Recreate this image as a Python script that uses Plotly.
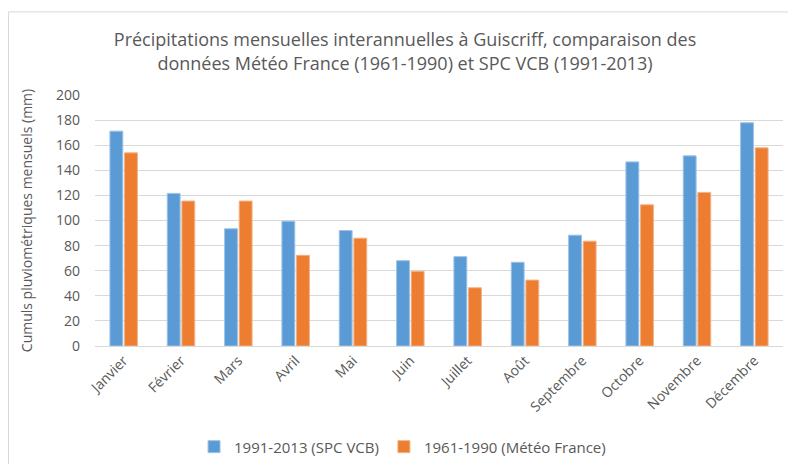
import plotly.graph_objects as go

mois = ["Janvier", "Février", "Mars", "Avril", "Mai", "Juin", "Juillet", "Août",
        "Septembre", "Octobre", "Novembre", "Décembre"]
spc_vcb_1991_2013 = [171.2, 121.6, 93.4, 99.5, 92.0, 68.0, 71.2, 66.7, 88.3, 146.7, 151.5, 177.9]
meteo_france_1961_1990 = [153.9, 115.5, 115.5, 72.3, 85.9, 59.5, 46.4, 52.5, 83.5, 112.5, 122.4, 157.9]
y_ticks = [0, 20, 40, 60, 80, 100, 120, 140, 160, 180, 200]

FONT = "Open Sans"
GREY = "#595959"

fig = go.Figure()
fig.add_trace(go.Bar(x=mois, y=spc_vcb_1991_2013, name="1991-2013 (SPC VCB)",
                     marker=dict(color="#5B9BD5", line=dict(color="#9DC3E6", width=1))))
fig.add_trace(go.Bar(x=mois, y=meteo_france_1961_1990, name="1961-1990 (Météo France)",
                     marker=dict(color="#ED7D31", line=dict(color="#F4B183", width=1))))

fig.update_layout(
    width=788, height=464,
    margin=dict(l=95, r=5, t=95, b=118, autoexpand=False),
    paper_bgcolor="white", plot_bgcolor="white",
    font=dict(family=FONT, color=GREY, size=12),
    barmode="group", bargap=0.49, bargroupgap=0.12,
    title=dict(text="Précipitations mensuelles interannuelles à Guiscriff, comparaison des<br>données Météo France (1961-1990) et SPC VCB (1991-2013)",
               x=0.514, xanchor="center", y=0.90, yanchor="top",
               font=dict(family=FONT, size=18, color=GREY)),
    legend=dict(orientation="h", x=0.447, xanchor="center", y=-0.402, yanchor="middle",
                font=dict(family=FONT, size=15, color=GREY), itemwidth=30),
    shapes=[dict(type="rect", xref="paper", yref="paper", x0=-0.1257, x1=1.1, y0=-0.6, y1=1.331,
                 line=dict(color="#D9D9D9", width=1))],
)
fig.update_xaxes(tickangle=-45, tickfont=dict(family=FONT, size=14, color=GREY),
                 showline=True, linecolor="#D9D9D9", ticks="", automargin=False)
fig.update_yaxes(range=[0, 200], tickvals=y_ticks, showgrid=True, gridcolor="#D9D9D9",
                 tickfont=dict(family=FONT, size=14, color=GREY), zeroline=False,
                 title=dict(text="Cumuls pluviométriques mensuels (mm)", standoff=20,
                            font=dict(family=FONT, size=14, color=GREY)),
                 ticklabelstandoff=14, automargin=False)

fig.write_html("out.html", config={"displayModeBar": False},
               post_script="document.body.style.margin='0';")
